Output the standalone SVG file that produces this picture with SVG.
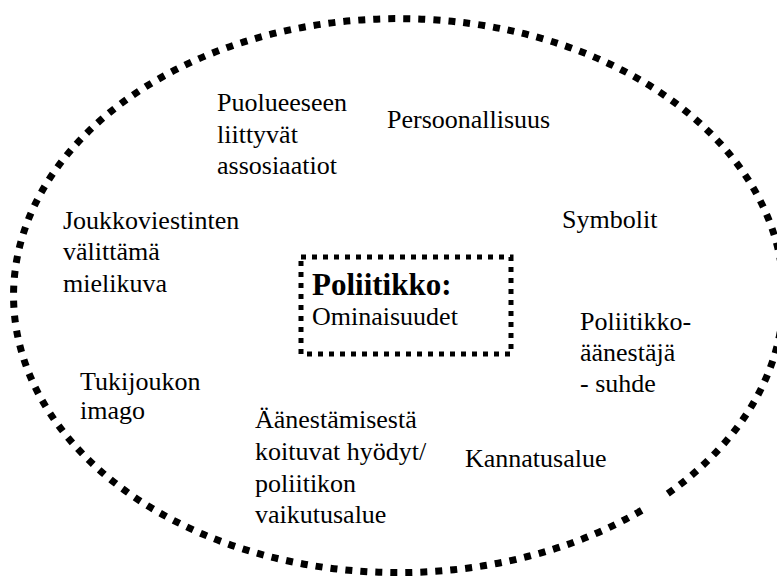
<svg xmlns="http://www.w3.org/2000/svg" width="777" height="578" viewBox="0 0 777 578">
<style>
  .lbl { font-family: "Liberation Serif", "Times New Roman", serif; font-size: 26px; fill: #000; }
  .title { font-family: "Liberation Serif", "Times New Roman", serif; font-size: 31px; font-weight: bold; fill: #000; }
  .outer { fill: none; stroke: #000; stroke-width: 7; stroke-dasharray: 7 8; }
  .inner { fill: none; stroke: #000; stroke-width: 5; stroke-dasharray: 5 6; }
</style>
<rect width="777" height="578" fill="#fff"/>
<g id="outer-ellipse">
  <path class="outer" d="M 667.8 493.6 A 385 277 0 1 0 648.0 506.6"/>
</g>
<g id="center">
  <rect class="inner" x="301" y="257" width="210" height="97"/>
  <text class="title" x="312" y="295">Poliitikko:</text>
  <text class="lbl" x="312" y="325">Ominaisuudet</text>
</g>
<g id="puolue">
  <text class="lbl" x="217" y="111">Puolueeseen</text>
  <text class="lbl" x="217" y="143">liittyvät</text>
  <text class="lbl" x="217" y="174">assosiaatiot</text>
</g>
<g id="persoonallisuus">
  <text class="lbl" x="387" y="128">Persoonallisuus</text>
</g>
<g id="joukkoviestinten">
  <text class="lbl" x="63" y="229">Joukkoviestinten</text>
  <text class="lbl" x="63" y="260">välittämä</text>
  <text class="lbl" x="63" y="292">mielikuva</text>
</g>
<g id="symbolit">
  <text class="lbl" x="562" y="228">Symbolit</text>
</g>
<g id="suhde">
  <text class="lbl" x="580" y="330">Poliitikko-</text>
  <text class="lbl" x="580" y="361">äänestäjä</text>
  <text class="lbl" x="580" y="392">- suhde</text>
</g>
<g id="tukijoukon">
  <text class="lbl" x="80" y="390">Tukijoukon</text>
  <text class="lbl" x="80" y="419">imago</text>
</g>
<g id="hyodyt">
  <text class="lbl" x="255" y="428">Äänestämisestä</text>
  <text class="lbl" x="255" y="460">koituvat hyödyt/</text>
  <text class="lbl" x="255" y="492">poliitikon</text>
  <text class="lbl" x="255" y="523">vaikutusalue</text>
</g>
<g id="kannatusalue">
  <text class="lbl" x="465" y="467">Kannatusalue</text>
</g>
</svg>
